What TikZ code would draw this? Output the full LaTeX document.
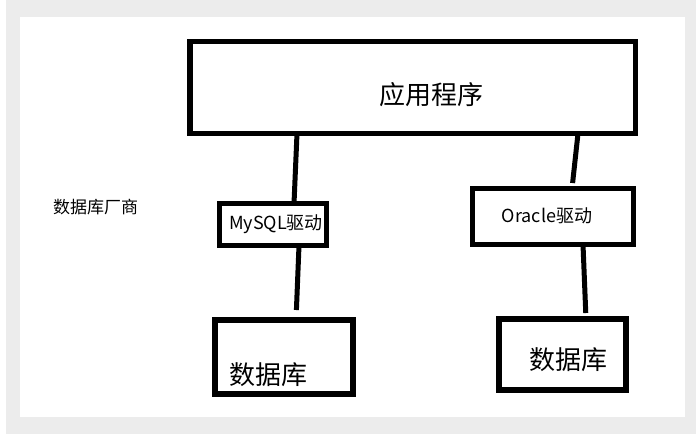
\documentclass[tikz,border=0pt]{standalone}
\usepackage{fontspec}
\setmainfont{Noto Sans CJK SC}
\usetikzlibrary{calc}
\definecolor{framegray}{RGB}{236,236,236}
\begin{document}
\begin{tikzpicture}[x=1pt,y=-1pt,
  box/.style={draw=black, line width=5.5pt, inner sep=0pt, outer sep=0pt},
  link/.style={draw=black, line width=5pt},
  bigtxt/.style={inner sep=0pt, font=\fontsize{26pt}{30pt}\selectfont},
  smalltxt/.style={inner sep=0pt, font=\fontsize{18pt}{22pt}\selectfont},
  sidetxt/.style={inner sep=0pt, font=\fontsize{17pt}{20pt}\selectfont}]
\useasboundingbox (0,0) rectangle (696,434);
\fill[framegray] (6,0) rectangle (696,434);
\fill[white] (20,17) rectangle (685,417);
% boxes
\node[box, minimum width=445.5pt, minimum height=92pt] (app) at (412.75,87.5) {};
\node[box, minimum width=107pt, minimum height=42pt, line width=5pt] (mysql) at (273,224.5) {};
\node[box, minimum width=161pt, minimum height=56pt, line width=5pt] (oracle) at (553,216.5) {};
\node[box, minimum width=138pt, minimum height=74pt] (dbl) at (284,357) {};
\node[box, minimum width=127pt, minimum height=71pt] (dbr) at (562.5,354.5) {};
% texts
\node[bigtxt] (apptext) at ([shift={(19,7)}]app.center) {应用程序};
\node[smalltxt] (mysqltext) at ([shift={(3,0)}]mysql.center) {MySQL驱动};
\node[smalltxt] (oracletext) at ([shift={(-6,-1)}]oracle.center) {Oracle驱动};
\node[bigtxt] (dbltext) at ([shift={(-15.5,18)}]dbl.center) {数据库};
\node[bigtxt] (dbrtext) at ([shift={(5.5,5.5)}]dbr.center) {数据库};
\node[sidetxt] (vendor) at (95.5,207) {数据库厂商};
% connectors
\draw[link] ([xshift=107pt]app.south west) -- ([xshift=74.5pt]mysql.north west);
\draw[link, shorten >=10pt] ([xshift=79.5pt]mysql.south west) -- ([xshift=81pt]dbl.north west);
\draw[link, shorten >=5.5pt] ([xshift=388pt]app.south west) -- ([xshift=99.5pt]oracle.north west);
\draw[link, shorten >=6pt] ([xshift=110.5pt]oracle.south west) -- ([xshift=87pt]dbr.north west);
\end{tikzpicture}
\end{document}
